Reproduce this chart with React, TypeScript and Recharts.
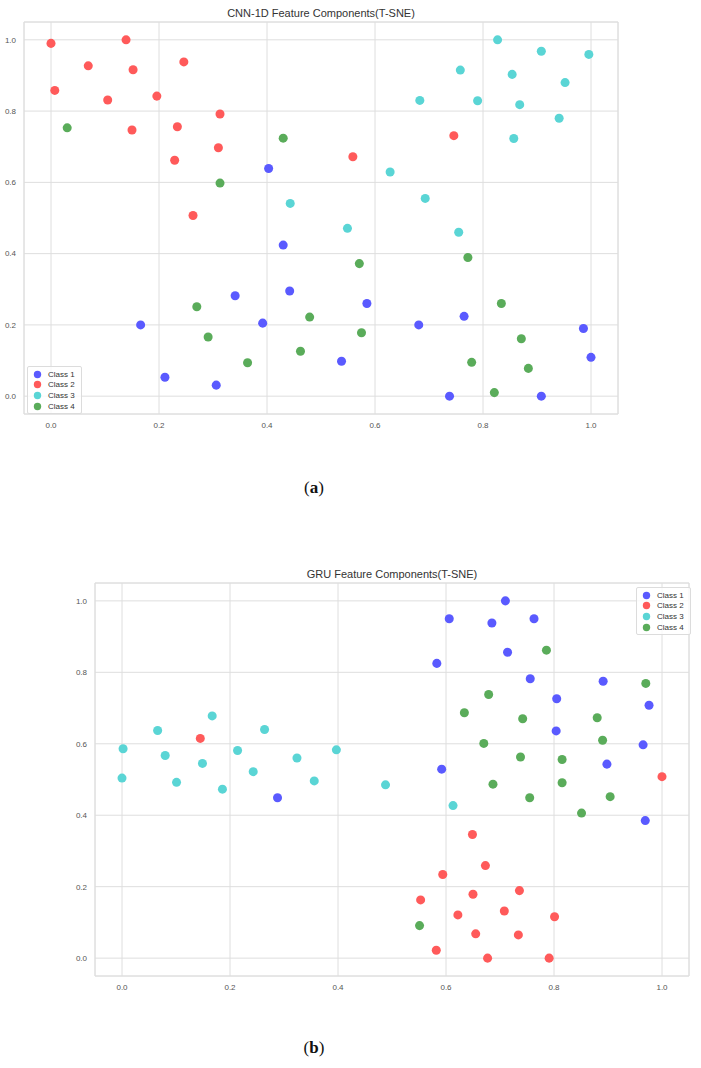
import React from "react";
import {
  ScatterChart,
  Scatter,
  XAxis,
  YAxis,
  ZAxis,
  CartesianGrid,
  ReferenceArea,
} from "recharts";

// CNN-1D t-SNE points per class
const cnnClass1 = [
  { x: 0.403, y: 0.639 }, { x: 0.43, y: 0.424 }, { x: 0.442, y: 0.295 }, { x: 0.341, y: 0.282 },
  { x: 0.166, y: 0.2 }, { x: 0.392, y: 0.205 }, { x: 0.538, y: 0.098 }, { x: 0.211, y: 0.053 },
  { x: 0.306, y: 0.031 }, { x: 0.585, y: 0.26 }, { x: 0.765, y: 0.224 }, { x: 0.681, y: 0.2 },
  { x: 0.986, y: 0.19 }, { x: 1.0, y: 0.109 }, { x: 0.738, y: 0.0 }, { x: 0.908, y: 0.0 },
];
const cnnClass2 = [
  { x: 0.0, y: 0.99 }, { x: 0.139, y: 1.0 }, { x: 0.069, y: 0.927 }, { x: 0.152, y: 0.916 },
  { x: 0.246, y: 0.938 }, { x: 0.007, y: 0.858 }, { x: 0.105, y: 0.831 }, { x: 0.196, y: 0.842 },
  { x: 0.313, y: 0.792 }, { x: 0.15, y: 0.747 }, { x: 0.234, y: 0.756 }, { x: 0.31, y: 0.697 },
  { x: 0.229, y: 0.662 }, { x: 0.263, y: 0.507 }, { x: 0.746, y: 0.731 }, { x: 0.559, y: 0.672 },
];
const cnnClass3 = [
  { x: 0.443, y: 0.541 }, { x: 0.827, y: 1.0 }, { x: 0.908, y: 0.968 }, { x: 0.996, y: 0.959 },
  { x: 0.758, y: 0.915 }, { x: 0.854, y: 0.903 }, { x: 0.952, y: 0.88 }, { x: 0.683, y: 0.83 },
  { x: 0.79, y: 0.829 }, { x: 0.868, y: 0.818 }, { x: 0.941, y: 0.78 }, { x: 0.857, y: 0.723 },
  { x: 0.628, y: 0.629 }, { x: 0.693, y: 0.555 }, { x: 0.549, y: 0.471 }, { x: 0.755, y: 0.46 },
];
const cnnClass4 = [
  { x: 0.03, y: 0.753 }, { x: 0.43, y: 0.724 }, { x: 0.313, y: 0.598 }, { x: 0.27, y: 0.251 },
  { x: 0.479, y: 0.222 }, { x: 0.291, y: 0.166 }, { x: 0.462, y: 0.126 }, { x: 0.364, y: 0.094 },
  { x: 0.772, y: 0.389 }, { x: 0.571, y: 0.372 }, { x: 0.834, y: 0.26 }, { x: 0.575, y: 0.178 },
  { x: 0.871, y: 0.161 }, { x: 0.779, y: 0.095 }, { x: 0.884, y: 0.078 }, { x: 0.821, y: 0.01 },
];

// GRU t-SNE points per class
const gruClass1 = [
  { x: 0.71, y: 1.0 }, { x: 0.606, y: 0.95 }, { x: 0.685, y: 0.938 }, { x: 0.763, y: 0.95 },
  { x: 0.714, y: 0.856 }, { x: 0.583, y: 0.825 }, { x: 0.756, y: 0.782 }, { x: 0.891, y: 0.775 },
  { x: 0.805, y: 0.726 }, { x: 0.976, y: 0.708 }, { x: 0.804, y: 0.636 }, { x: 0.965, y: 0.597 },
  { x: 0.898, y: 0.543 }, { x: 0.592, y: 0.529 }, { x: 0.288, y: 0.449 }, { x: 0.969, y: 0.385 },
];
const gruClass2 = [
  { x: 0.145, y: 0.615 }, { x: 1.0, y: 0.508 }, { x: 0.649, y: 0.346 }, { x: 0.673, y: 0.259 },
  { x: 0.594, y: 0.234 }, { x: 0.553, y: 0.163 }, { x: 0.65, y: 0.179 }, { x: 0.736, y: 0.189 },
  { x: 0.622, y: 0.121 }, { x: 0.708, y: 0.132 }, { x: 0.801, y: 0.116 }, { x: 0.655, y: 0.068 },
  { x: 0.734, y: 0.065 }, { x: 0.582, y: 0.022 }, { x: 0.677, y: 0.0 }, { x: 0.791, y: 0.0 },
];
const gruClass3 = [
  { x: 0.002, y: 0.586 }, { x: 0.0, y: 0.504 }, { x: 0.066, y: 0.637 }, { x: 0.08, y: 0.567 },
  { x: 0.101, y: 0.492 }, { x: 0.149, y: 0.545 }, { x: 0.167, y: 0.678 }, { x: 0.186, y: 0.473 },
  { x: 0.214, y: 0.581 }, { x: 0.243, y: 0.522 }, { x: 0.264, y: 0.64 }, { x: 0.324, y: 0.56 },
  { x: 0.356, y: 0.496 }, { x: 0.397, y: 0.583 }, { x: 0.488, y: 0.485 }, { x: 0.613, y: 0.427 },
];
const gruClass4 = [
  { x: 0.786, y: 0.862 }, { x: 0.97, y: 0.769 }, { x: 0.679, y: 0.738 }, { x: 0.634, y: 0.687 },
  { x: 0.742, y: 0.67 }, { x: 0.88, y: 0.673 }, { x: 0.67, y: 0.601 }, { x: 0.89, y: 0.61 },
  { x: 0.738, y: 0.563 }, { x: 0.815, y: 0.556 }, { x: 0.687, y: 0.487 }, { x: 0.815, y: 0.491 },
  { x: 0.755, y: 0.449 }, { x: 0.904, y: 0.452 }, { x: 0.851, y: 0.406 }, { x: 0.551, y: 0.091 },
];

const classNames = ["Class 1", "Class 2", "Class 3", "Class 4"];
const ticks = [0, 0.2, 0.4, 0.6, 0.8, 1.0];

const COLORS = ["#5a5aff", "#ff5a5a", "#5ad5d5", "#5aac5a"];
const GRID = "#dedede";
const FONT = "'Liberation Sans', Arial, sans-serif";

function LegendBox({ left, top }: { left: number; top: number }) {
  return (
    <div
      style={{
        position: "absolute",
        left,
        top,
        border: "1px solid #dcdcdc",
        borderRadius: 2,
        background: "rgba(255,255,255,0.8)",
        padding: "2px 6px 2px 5px",
        fontFamily: FONT,
        fontSize: 8,
        color: "#333",
      }}
    >
      {classNames.map((name, i) => (
        <div key={name} style={{ display: "flex", alignItems: "center", height: 10.6 }}>
          <svg width={9} height={9} style={{ marginRight: 6 }}>
            <circle cx={4.5} cy={4.5} r={3.7} fill={COLORS[i]} />
          </svg>
          <span>{name}</span>
        </div>
      ))}
    </div>
  );
}

function TsneChart({
  title,
  series,
  width,
  height,
  margin,
  yAxisWidth,
  legendPos,
}: {
  title: string;
  series: { x: number; y: number }[][];
  width: number;
  height: number;
  margin: { top: number; right: number; bottom: number; left: number };
  yAxisWidth: number;
  legendPos: { left: number; top: number };
}) {
  const plotLeft = margin.left + yAxisWidth;
  const plotRight = width - margin.right;
  return (
    <div style={{ position: "relative", width, height }}>
      <div
        style={{
          position: "absolute",
          left: plotLeft,
          width: plotRight - plotLeft,
          top: margin.top - 15,
          textAlign: "center",
          fontFamily: FONT,
          fontSize: 11,
          color: "#333",
        }}
      >
        {title}
      </div>
      <ScatterChart width={width} height={height} margin={margin}>
        <ReferenceArea
          x1={-0.05}
          x2={1.05}
          y1={-0.05}
          y2={1.05}
          fill="none"
          stroke={GRID}
          strokeWidth={1}
          fillOpacity={0}
        />
        <CartesianGrid stroke={GRID} strokeWidth={1} />
        <XAxis
          type="number"
          dataKey="x"
          domain={[-0.05, 1.05]}
          ticks={ticks}
          allowDataOverflow
          tickFormatter={(v: number) => v.toFixed(1)}
          axisLine={false}
          tickLine={false}
          tick={{ fontSize: 8, fill: "#555", fontFamily: FONT }}
          height={20}
        />
        <YAxis
          type="number"
          dataKey="y"
          domain={[-0.05, 1.05]}
          ticks={ticks}
          allowDataOverflow
          tickFormatter={(v: number) => v.toFixed(1)}
          axisLine={false}
          tickLine={false}
          tick={{ fontSize: 8, fill: "#555", fontFamily: FONT }}
          width={yAxisWidth}
        />
        <ZAxis type="number" range={[44, 44]} />
        {series.map((data, i) => (
          <Scatter
            key={classNames[i]}
            name={classNames[i]}
            data={data}
            fill={COLORS[i]}
            isAnimationActive={false}
          />
        ))}
      </ScatterChart>
      <LegendBox left={legendPos.left} top={legendPos.top} />
    </div>
  );
}

export default function App() {
  return (
    <div style={{ position: "absolute", left: 0, top: 0, width: 701, height: 1068, background: "#fff" }}>
      <div style={{ position: "absolute", left: 0, top: 0 }}>
        <TsneChart
          title="CNN-1D Feature Components(T-SNE)"
          series={[cnnClass1, cnnClass2, cnnClass3, cnnClass4]}
          width={701}
          height={440}
          margin={{ top: 22, right: 83, bottom: 6, left: 0 }}
          yAxisWidth={24}
          legendPos={{ left: 27, top: 366 }}
        />
      </div>
      <div
        style={{
          position: "absolute",
          left: 0,
          width: 628,
          top: 478,
          textAlign: "center",
          fontFamily: "'Liberation Serif', 'DejaVu Serif', serif",
          fontSize: 17,
          color: "#111",
        }}
      >
        (<b>a</b>)
      </div>
      <div style={{ position: "absolute", left: 0, top: 540 }}>
        <TsneChart
          title="GRU Feature Components(T-SNE)"
          series={[gruClass1, gruClass2, gruClass3, gruClass4]}
          width={701}
          height={460}
          margin={{ top: 43, right: 12, bottom: 4, left: 0 }}
          yAxisWidth={95}
          legendPos={{ left: 636, top: 47 }}
        />
      </div>
      <div
        style={{
          position: "absolute",
          left: 0,
          width: 628,
          top: 1038,
          textAlign: "center",
          fontFamily: "'Liberation Serif', 'DejaVu Serif', serif",
          fontSize: 17,
          color: "#111",
        }}
      >
        (<b>b</b>)
      </div>
    </div>
  );
}
